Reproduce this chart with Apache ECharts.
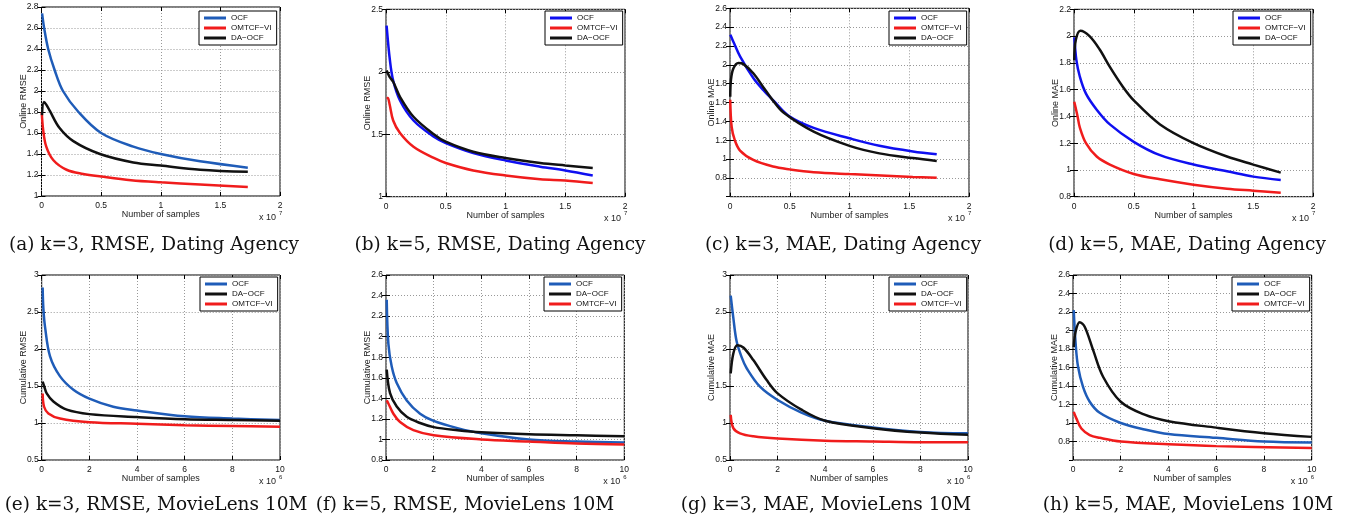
<!DOCTYPE html>
<html>
<head>
<meta charset="utf-8">
<script src="https://cdn.jsdelivr.net/npm/echarts@6/dist/echarts.min.js"></script>
<style>
  html, body { margin: 0; padding: 0; background: #fff; }
  #app { width: 1348px; height: 523px; }
</style>
</head>
<body>
<div id="app"></div>
<script>
// curves, x in units of the axis multiplier (1e7 top row, 1e6 bottom row)
const aOcf = [[0.005, 2.74], [0.022, 2.6], [0.056, 2.4], [0.11, 2.2], [0.18, 2.0], [0.31, 1.8], [0.5, 1.6], [0.77, 1.47], [1.0, 1.40], [1.33, 1.33], [1.73, 1.27]];
const aOmt = [[0.002, 1.80], [0.014, 1.63], [0.04, 1.47], [0.1, 1.34], [0.21, 1.25], [0.35, 1.21], [0.5, 1.185], [0.75, 1.15], [1.0, 1.13], [1.33, 1.11], [1.73, 1.085]];
const aDa = [[0.004, 1.77], [0.02, 1.895], [0.04, 1.87], [0.07, 1.81], [0.15, 1.65], [0.27, 1.52], [0.49, 1.40], [0.77, 1.32], [1.0, 1.29], [1.33, 1.25], [1.73, 1.23]];

const bOcf = [[0.005, 2.37], [0.033, 2.09], [0.06, 1.93], [0.117, 1.77], [0.23, 1.61], [0.4, 1.48], [0.5, 1.43], [0.73, 1.35], [1.0, 1.29], [1.29, 1.24], [1.5, 1.21], [1.73, 1.17]];
const bOmt = [[0.005, 1.79], [0.015, 1.79], [0.03, 1.74], [0.06, 1.61], [0.117, 1.51], [0.23, 1.40], [0.4, 1.31], [0.5, 1.27], [0.73, 1.21], [1.0, 1.17], [1.29, 1.14], [1.5, 1.13], [1.73, 1.11]];
const bDa = [[0.005, 2.01], [0.03, 1.96], [0.06, 1.92], [0.117, 1.80], [0.23, 1.64], [0.4, 1.50], [0.5, 1.44], [0.73, 1.36], [1.0, 1.31], [1.29, 1.27], [1.5, 1.25], [1.73, 1.23]];

const cOcf = [[0.003, 2.32], [0.03, 2.24], [0.084, 2.09], [0.195, 1.86], [0.28, 1.73], [0.36, 1.625], [0.5, 1.45], [0.7, 1.33], [1.0, 1.22], [1.25, 1.14], [1.53, 1.08], [1.73, 1.05]];
const cOmt = [[0.002, 1.63], [0.014, 1.34], [0.04, 1.20], [0.084, 1.09], [0.195, 0.99], [0.36, 0.92], [0.5, 0.89], [0.7, 0.86], [1.0, 0.84], [1.53, 0.81], [1.73, 0.80]];
const cDa = [[0.002, 1.66], [0.008, 1.84], [0.028, 1.96], [0.07, 2.02], [0.11, 2.01], [0.195, 1.91], [0.28, 1.76], [0.36, 1.62], [0.45, 1.49], [0.7, 1.29], [1.0, 1.14], [1.25, 1.06], [1.53, 1.01], [1.73, 0.98]];

const dOcf = [[0.003, 1.99], [0.02, 1.82], [0.048, 1.70], [0.1, 1.57], [0.19, 1.45], [0.3, 1.34], [0.5, 1.21], [0.72, 1.11], [1.0, 1.04], [1.28, 0.99], [1.5, 0.95], [1.73, 0.925]];
const dOmt = [[0.002, 1.51], [0.015, 1.46], [0.03, 1.40], [0.048, 1.32], [0.1, 1.20], [0.19, 1.10], [0.3, 1.04], [0.5, 0.97], [0.72, 0.93], [1.0, 0.89], [1.28, 0.86], [1.5, 0.845], [1.73, 0.83]];
const dDa = [[0.002, 1.82], [0.015, 1.97], [0.053, 2.04], [0.13, 2.0], [0.215, 1.90], [0.3, 1.77], [0.41, 1.62], [0.5, 1.52], [0.72, 1.34], [1.0, 1.20], [1.28, 1.10], [1.5, 1.04], [1.73, 0.98]];

const eOcf = [[0.04, 2.83], [0.07, 2.55], [0.14, 2.30], [0.35, 1.90], [0.77, 1.63], [1.33, 1.45], [2, 1.33], [3, 1.22], [4, 1.17], [6, 1.09], [8, 1.06], [10, 1.04]];
const eDa = [[0.04, 1.56], [0.1, 1.50], [0.21, 1.40], [0.49, 1.29], [1.05, 1.18], [2, 1.12], [4, 1.08], [6, 1.05], [8, 1.04], [10, 1.03]];
const eOmt = [[0.04, 1.40], [0.1, 1.22], [0.28, 1.13], [0.77, 1.06], [2, 1.01], [4, 0.99], [6, 0.97], [8, 0.96], [10, 0.95]];

const fOcf = [[0.03, 2.36], [0.1, 1.93], [0.24, 1.71], [0.45, 1.55], [0.87, 1.38], [1.43, 1.25], [2, 1.18], [3, 1.11], [4, 1.06], [6, 1.00], [8, 0.98], [10, 0.97]];
const fDa = [[0.03, 1.68], [0.17, 1.45], [0.45, 1.32], [0.87, 1.22], [1.43, 1.16], [2, 1.12], [3, 1.09], [4, 1.07], [6, 1.05], [8, 1.04], [10, 1.03]];
const fOmt = [[0.03, 1.38], [0.1, 1.35], [0.31, 1.25], [0.59, 1.17], [1.15, 1.09], [2, 1.04], [4, 1.00], [6, 0.98], [8, 0.96], [10, 0.95]];

const gOcf = [[0.03, 2.72], [0.14, 2.42], [0.28, 2.1], [0.5, 1.88], [0.7, 1.74], [1.26, 1.49], [2, 1.31], [3, 1.14], [4, 1.03], [6, 0.94], [8, 0.88], [10, 0.86]];
const gDa = [[0.03, 1.67], [0.14, 1.94], [0.31, 2.05], [0.56, 2.02], [0.98, 1.85], [1.54, 1.58], [2, 1.40], [3, 1.18], [4, 1.03], [6, 0.93], [8, 0.87], [10, 0.84]];
const gOmt = [[0.03, 1.11], [0.14, 0.93], [0.42, 0.86], [0.98, 0.82], [2, 0.79], [4, 0.76], [6, 0.75], [8, 0.74], [10, 0.74]];

const hOcf = [[0.03, 2.22], [0.11, 1.86], [0.21, 1.61], [0.42, 1.39], [0.7, 1.23], [1.12, 1.11], [2, 1.0], [3, 0.93], [4, 0.88], [6, 0.84], [8, 0.80], [10, 0.79]];
const hDa = [[0.03, 1.82], [0.11, 1.99], [0.28, 2.09], [0.49, 2.04], [0.84, 1.79], [1.26, 1.50], [2, 1.23], [3, 1.09], [4, 1.02], [6, 0.95], [8, 0.89], [10, 0.85]];
const hOmt = [[0.03, 1.12], [0.14, 1.05], [0.35, 0.94], [0.7, 0.87], [1.12, 0.84], [2, 0.80], [4, 0.77], [6, 0.75], [10, 0.73]];

const captions = [
  "(a) k=3, RMSE, Dating Agency", "(b) k=5, RMSE, Dating Agency",
  "(c) k=3, MAE, Dating Agency", "(d) k=5, MAE, Dating Agency",
  "(e) k=3, RMSE, MovieLens 10M", "(f) k=5, RMSE, MovieLens 10M",
  "(g) k=3, MAE, MovieLens 10M", "(h) k=5, MAE, MovieLens 10M"
];
const yNames = ["Online RMSE", "Online RMSE", "Online MAE", "Online MAE",
  "Cumulative RMSE", "Cumulative RMSE", "Cumulative MAE", "Cumulative MAE"];
const xName = "Number of samples";
const exponents = ["7", "7", "7", "7", "6", "6", "6", "6"];
const yRanges = [[1, 2.8, 0.2], [1, 2.5, 0.5], [0.6, 2.6, 0.2], [0.8, 2.2, 0.2],
  [0.5, 3, 0.5], [0.8, 2.6, 0.2], [0.5, 3, 0.5], [0.6, 2.6, 0.2]];
const xRanges = [[0, 2, 0.5], [0, 2, 0.5], [0, 2, 0.5], [0, 2, 0.5],
  [0, 10, 2], [0, 10, 2], [0, 10, 2], [0, 10, 2]];
const topOrder = ["OCF", "OMTCF−VI", "DA−OCF"];
const bottomOrder = ["OCF", "DA−OCF", "OMTCF−VI"];

const STEEL = "#1f5cb8";
const BLUE = "#0f0ff0";
const RED = "#f01c1c";
const BLACK = "#111111";
const SANS = "Liberation Sans, Arial, sans-serif";

// panel layout: grid box, legend corner, caption centre
const panels = [
  { box: [41.5, 7, 238.5, 189], leg: [199, 11], cap: [154, 245], blue: STEEL, data: [aOcf, aOmt, aDa], order: topOrder },
  { box: [386, 9.3, 239, 187.4], leg: [545, 11], cap: [500, 245], blue: BLUE, data: [bOcf, bOmt, bDa], order: topOrder },
  { box: [730, 8.3, 239, 188.4], leg: [889, 11], cap: [843, 245], blue: BLUE, data: [cOcf, cOmt, cDa], order: topOrder },
  { box: [1074, 9.3, 239, 187.4], leg: [1233, 11], cap: [1187, 245], blue: BLUE, data: [dOcf, dOmt, dDa], order: topOrder },
  { box: [41.7, 275, 238.3, 185], leg: [200, 277], cap: [156, 505], blue: STEEL, data: [eOcf, eDa, eOmt], order: bottomOrder },
  { box: [386, 275, 238.3, 185], leg: [544, 277], cap: [465, 505], blue: STEEL, data: [fOcf, fDa, fOmt], order: bottomOrder },
  { box: [730, 275, 238, 185], leg: [889, 277], cap: [826, 505], blue: STEEL, data: [gOcf, gDa, gOmt], order: bottomOrder },
  { box: [1073, 275, 238.7, 185], leg: [1232, 277], cap: [1188, 505], blue: STEEL, data: [hOcf, hDa, hOmt], order: bottomOrder }
];

function colorOf(name, blue) {
  if (name === "OCF") return blue;
  if (name === "OMTCF−VI") return RED;
  return BLACK;
}

const grid = [], xAxis = [], yAxis = [], series = [], legend = [], graphic = [];
const tick = { show: true, inside: true, length: 4, lineStyle: { color: "#000" } };
const gridLine = { show: true, lineStyle: { color: "#999", type: [1, 2], width: 1 } };

panels.forEach((p, i) => {
  const [left, top, width, height] = p.box;
  grid.push({ left, top, width, height, show: true, borderColor: "#000", borderWidth: 1, backgroundColor: "#fff" });
  const [xmin, xmax, xstep] = xRanges[i];
  const [ymin, ymax, ystep] = yRanges[i];
  xAxis.push({
    type: "value", gridIndex: i, min: xmin, max: xmax, interval: xstep,
    name: xName, nameLocation: "middle", nameGap: 14, nameMoveOverlap: false,
    nameTextStyle: { fontFamily: SANS, fontSize: 9, color: "#222" },
    axisLine: { show: false }, axisTick: tick, splitLine: gridLine,
    axisLabel: { fontFamily: SANS, fontSize: 8.5, color: "#111", margin: 5 }
  });
  xAxis.push({
    type: "value", gridIndex: i, position: "top", min: xmin, max: xmax, interval: xstep,
    axisLine: { show: false }, axisTick: tick, splitLine: { show: false }, axisLabel: { show: false }
  });
  const hideMin = ymin === 0.6;
  yAxis.push({
    type: "value", gridIndex: i, min: ymin, max: ymax, interval: ystep,
    name: yNames[i], nameLocation: "middle", nameGap: 13.5, nameMoveOverlap: false,
    nameTextStyle: { fontFamily: SANS, fontSize: 9, color: "#222" },
    axisLine: { show: false }, axisTick: tick, splitLine: gridLine,
    axisLabel: { fontFamily: SANS, fontSize: 8.5, color: "#111", margin: 3, showMinLabel: !hideMin }
  });
  yAxis.push({
    type: "value", gridIndex: i, position: "right", min: ymin, max: ymax, interval: ystep,
    axisLine: { show: false }, axisTick: tick, splitLine: { show: false }, axisLabel: { show: false }
  });
  const names = i < 4 ? topOrder : bottomOrder;
  p.data.forEach((d, k) => {
    const name = names[k];
    const color = colorOf(name, p.blue);
    series.push({
      type: "line", name, xAxisIndex: 2 * i, yAxisIndex: 2 * i, data: d,
      smooth: 0.35, showSymbol: false, symbol: "none",
      lineStyle: { color, width: 2.5 }, itemStyle: { color }, z: 3
    });
  });
  legend.push({
    left: p.leg[0], top: p.leg[1], orient: "vertical", selectedMode: false,
    icon: "rect", itemWidth: 22, itemHeight: 3, itemGap: 0,
    padding: [2, 5, 2, 5], borderColor: "#000", borderWidth: 1, backgroundColor: "#fff",
    textStyle: { fontFamily: SANS, fontSize: 8, color: "#111", lineHeight: 10 },
    data: p.order.map(n => ({ name: n, itemStyle: { color: colorOf(n, p.blue) } }))
  });
  graphic.push({
    type: "text", left: left + width - 21, top: top + height + 17,
    style: { text: "x 10", font: "9px " + SANS, fill: "#222" }
  });
  graphic.push({
    type: "text", left: left + width - 1, top: top + height + 14,
    style: { text: exponents[i], font: "6px " + SANS, fill: "#222" }
  });
  graphic.push({
    type: "text", x: p.cap[0], y: p.cap[1],
    style: { text: captions[i], font: "18.5px 'DejaVu Serif', serif", fill: "#111", align: "center", verticalAlign: "middle" }
  });
});

const chart = echarts.init(document.getElementById("app"));
chart.setOption({ animation: false, backgroundColor: "#fff", grid, xAxis, yAxis, series, legend, graphic });
window.onresize = function () { chart.resize(); };
</script>
</body>
</html>
